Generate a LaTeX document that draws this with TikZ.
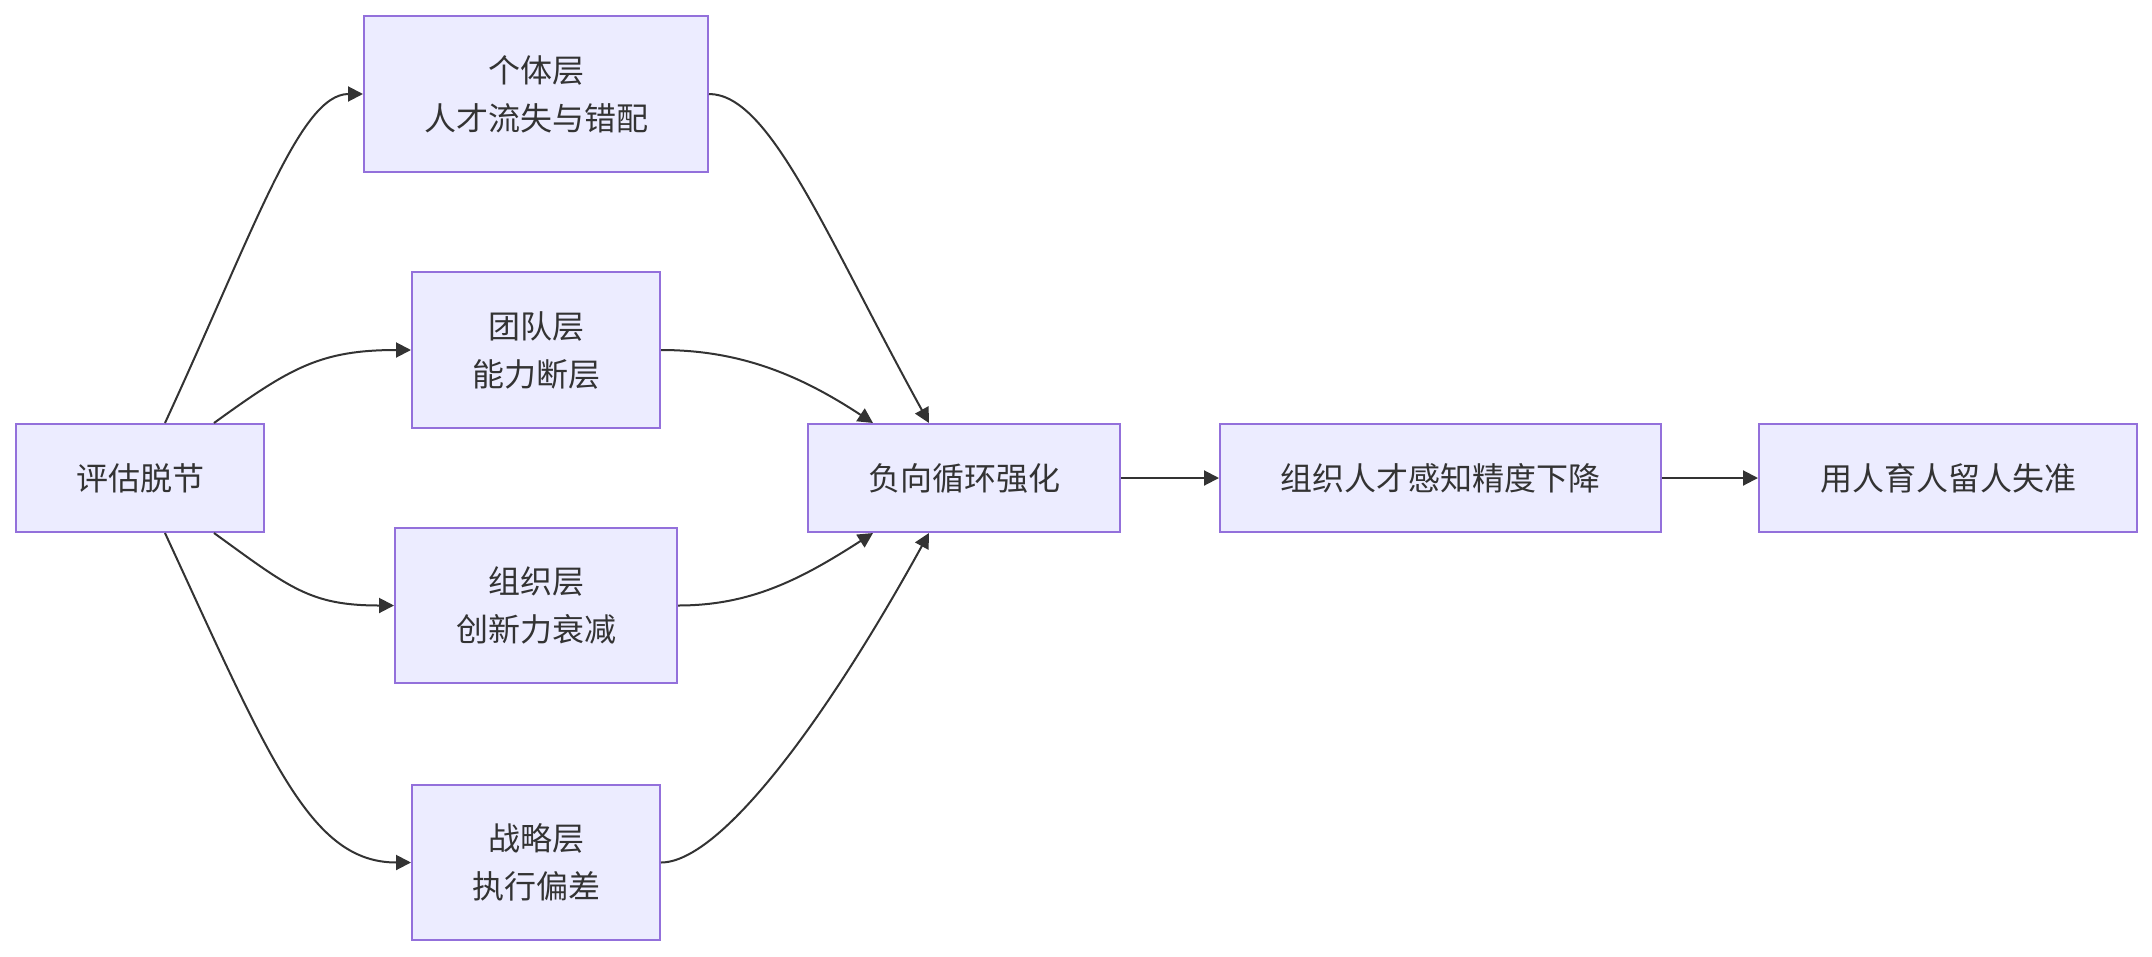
\documentclass[tikz,border=0pt]{standalone}
\usepackage{fontspec}
\setmainfont{Noto Sans CJK SC}
\usetikzlibrary{arrows.meta}
\definecolor{nodefill}{HTML}{ECECFF}
\definecolor{nodeline}{HTML}{9370DB}
\definecolor{ink}{HTML}{333333}
\begin{document}
\begin{tikzpicture}[x=1pt,y=-1pt,
  box/.style={draw=nodeline,fill=nodefill,line width=2pt,inner sep=0pt,align=center,text=ink,
    font=\fontsize{32}{48}\selectfont},
  link/.style={draw=ink,line width=2pt,-{Triangle[length=15pt,width=15pt]}}]
\useasboundingbox (0,0) rectangle (2152,956);
\node[box,minimum width=248pt,minimum height=108pt] (a) at (140,478) {评估脱节};
\node[box,minimum width=344pt,minimum height=156pt] (b1) at (536,94) {个体层\\人才流失与错配};
\node[box,minimum width=248pt,minimum height=156pt] (b2) at (536,350) {团队层\\能力断层};
\node[box,minimum width=282pt,minimum height=155pt] (b3) at (536,605.5) {组织层\\创新力衰减};
\node[box,minimum width=248pt,minimum height=155pt] (b4) at (536,862.5) {战略层\\执行偏差};
\node[box,minimum width=312pt,minimum height=108pt] (c) at (964,478) {负向循环强化};
\node[box,minimum width=441pt,minimum height=108pt] (d) at (1440.5,478) {组织人才感知精度下降};
\node[box,minimum width=378pt,minimum height=108pt] (e) at (1948,478) {用人育人留人失准};
% left fan
\draw[link] ([xshift=25pt]a.north) .. controls (255,228) and (300,94) .. (b1.west);
\draw[link] ([xshift=74pt]a.north) .. controls (290,368) and (320,350) .. (b2.west);
\draw[link] ([xshift=74pt]a.south) .. controls (290,588) and (310,605.5) .. (b3.west);
\draw[link] ([xshift=25pt]a.south) .. controls (270,760) and (310,862.5) .. (b4.west);
% right fan
\draw[link] (b1.east) .. controls (770,94) and (825,234) .. ([xshift=-35pt]c.north);
\draw[link] (b2.east) .. controls (740,350) and (800,375) .. ([xshift=-91pt]c.north);
\draw[link] (b3.east) .. controls (750,605.5) and (800,580) .. ([xshift=-91pt]c.south);
\draw[link] (b4.east) .. controls (720,862.5) and (825,722) .. ([xshift=-35pt]c.south);
% chain
\draw[link] (c.east) -- (d.west);
\draw[link] (d.east) -- (e.west);
\end{tikzpicture}
\end{document}
